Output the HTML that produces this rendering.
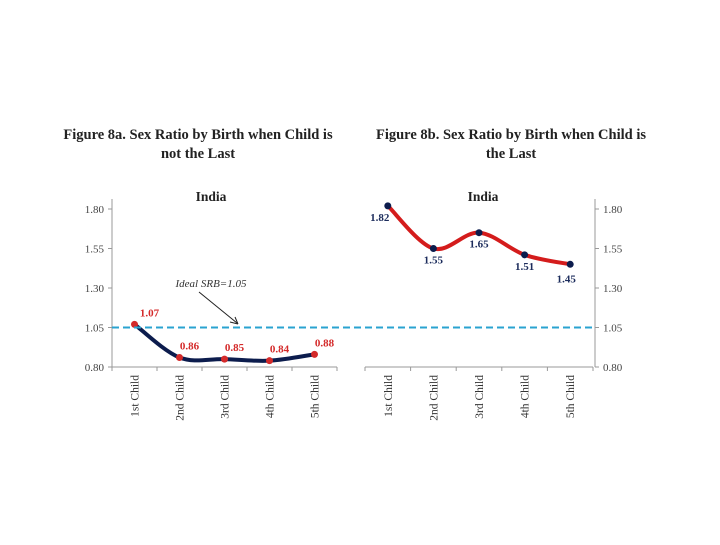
<!DOCTYPE html>
<html><head><meta charset="utf-8"><style>
body{margin:0;background:#fff;}
svg text{font-family:"Liberation Serif",serif;}
</style></head><body>
<svg width="720" height="540" xmlns="http://www.w3.org/2000/svg">
<text x="198" y="139" text-anchor="middle" font-size="14.5" font-weight="bold" fill="#222">Figure 8a. Sex Ratio by Birth when Child is</text>
<text x="198" y="158" text-anchor="middle" font-size="14.5" font-weight="bold" fill="#222">not the Last</text>
<text x="511" y="139" text-anchor="middle" font-size="14.5" font-weight="bold" fill="#222">Figure 8b. Sex Ratio by Birth when Child is</text>
<text x="511" y="158" text-anchor="middle" font-size="14.5" font-weight="bold" fill="#222">the Last</text>
<g id="left"></g><g id="right"></g><g id="ref"></g>
</svg>
<script>
const categories=["1st Child","2nd Child","3rd Child","4th Child","5th Child"];
const notLastValues=[1.07,0.86,0.85,0.84,0.88];
const lastValues=[1.82,1.55,1.65,1.51,1.45];
const yTicks=[0.80,1.05,1.30,1.55,1.80];
const idealSRB=1.05;
const NS="http://www.w3.org/2000/svg";
function mk(p,tag,a,t){const e=document.createElementNS(NS,tag);for(const k in a)e.setAttribute(k,a[k]);if(t!==undefined)e.textContent=t;p.appendChild(e);return e;}
const yTop=209,yBot=367;
function Y(v){return yBot-(v-0.80)/(1.80-0.80)*(yBot-yTop);}
function smooth(pts){let d="M"+pts[0][0]+","+pts[0][1];for(let i=0;i<pts.length-1;i++){const p0=pts[i-1]||pts[i],p1=pts[i],p2=pts[i+1],p3=pts[i+2]||p2;const t=6;d+=" C"+(p1[0]+(p2[0]-p0[0])/t)+","+(p1[1]+(p2[1]-p0[1])/t)+" "+(p2[0]-(p3[0]-p1[0])/t)+","+(p2[1]-(p3[1]-p1[1])/t)+" "+p2[0]+","+p2[1];}return d;}
function chart(g,name,x0,band,axisX,tickSide,vals,lineCol,markCol,labCol,labOff,title,titleX){
  const X=i=>x0+band*(i+0.5);
  let e=mk(g,"text",{x:titleX,y:201,"text-anchor":"middle","font-size":"13.5","font-weight":"bold",fill:"#222"},title);
  
  
  e=mk(g,"line",{x1:axisX,x2:axisX,y1:yTop-10,y2:yBot,stroke:"#999","stroke-width":1});
  
  
  yTicks.forEach(v=>{
    mk(g,"line",{x1:axisX,x2:axisX+tickSide*4,y1:Y(v),y2:Y(v),stroke:"#999"});
    const t=mk(g,"text",{x:tickSide<0?axisX-8:axisX+8,y:Y(v)+4,"text-anchor":tickSide<0?"end":"start","font-size":"11",fill:"#444"},v.toFixed(2));
    
    
  });
  e=mk(g,"line",{x1:x0,x2:x0+band*5,y1:yBot,y2:yBot,stroke:"#999"});
  
  
  for(let i=0;i<=5;i++)mk(g,"line",{x1:x0+band*i,x2:x0+band*i,y1:yBot,y2:yBot+4,stroke:"#999"});
  categories.forEach((c,i)=>{
    const t=mk(g,"text",{transform:"translate("+(X(i)+4)+",375) rotate(-90)","text-anchor":"end","font-size":"11.5",fill:"#333"},c);
    
    
  });
  const pts=vals.map((v,i)=>[X(i),Y(v)]);
  e=mk(g,"path",{d:smooth(pts),fill:"none",stroke:lineCol,"stroke-width":4,"stroke-linecap":"round"});
  
  
  vals.forEach((v,i)=>{
    const c=mk(g,"circle",{cx:pts[i][0],cy:pts[i][1],r:3.5,fill:markCol});
    
    
    const o=labOff(i);
    const t=mk(g,"text",{x:pts[i][0]+o[0],y:pts[i][1]+o[1],"text-anchor":"middle","font-size":"11","font-weight":"bold",fill:labCol},v.toFixed(2));
    
    
  });
}
chart(document.getElementById('left'),'fig8a',112,45,112,-1,notLastValues,"#0c1c4d","#d42a2a","#d42a2a",i=>[i==0?15:10,-8],"India",211);
chart(document.getElementById('right'),'fig8b',365,45.6,595,1,lastValues,"#d41c1c","#0c1c4d","#1c2c5c",i=>[i==0?-8:(i==4?-4:0),i==4?18:15],"India",483);
const r=document.getElementById('ref');
let e=mk(r,"line",{x1:112,x2:595,y1:Y(idealSRB),y2:Y(idealSRB),stroke:"#2aa3d0","stroke-width":2,"stroke-dasharray":"7,4"});


e=mk(r,"text",{x:211,y:287,"text-anchor":"middle","font-size":"11","font-style":"italic",fill:"#333"},"Ideal SRB=1.05");


e=mk(r,"line",{x1:199,x2:237,y1:292,y2:323,stroke:"#222","stroke-width":1});


mk(r,"path",{d:"M238,324 L230,322 M238,324 L235,317",stroke:"#222",fill:"none"});
</script>
</body></html>
